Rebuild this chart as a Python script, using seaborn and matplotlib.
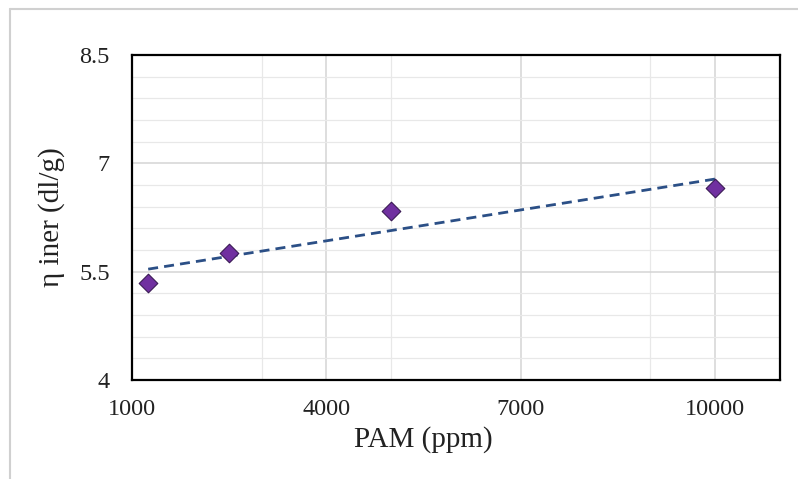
# Libraries
import pandas as pd
import seaborn as sns
import matplotlib.pyplot as plt
from matplotlib.ticker import FixedLocator
from matplotlib.lines import Line2D

# Data
pam_ppm = [1250, 2500, 5000, 10000]
eta_iner = [5.34, 5.76, 6.34, 6.66]
x_ticks = [1000, 4000, 7000, 10000]
y_ticks = [4, 5.5, 7, 8.5]
y_tick_labels = ['4', '5.5', '7', '8.5']

df = pd.DataFrame({'pam': pam_ppm, 'eta': eta_iner})

# Theme
sns.set_theme(style='white')
plt.rcParams['font.family'] = ['Liberation Serif', 'DejaVu Serif']

fig = plt.figure(figsize=(7.98, 4.79), dpi=100)
ax = fig.add_axes([0.1654, 0.2067, 0.8120, 0.6785])

# Linear trend line + points
sns.regplot(data=df, x='pam', y='eta', ax=ax, scatter=False, ci=None, truncate=True,
            line_kws=dict(color='#2b4f86', lw=2.0, ls=(0, (3.6, 2.2)), zorder=3))
sns.scatterplot(data=df, x='pam', y='eta', ax=ax, marker='D', s=90,
                color='#7030a0', edgecolor='#3a1a55', linewidth=0.8, zorder=4)

# Axes limits and ticks (major every 3000 / 1.5, minor every 2000 / 0.3)
ax.set_xlim(1000, 11000)
ax.set_ylim(4, 8.5)
ax.set_xticks(x_ticks)
ax.set_yticks(y_ticks)
ax.set_yticklabels(y_tick_labels)
ax.xaxis.set_minor_locator(FixedLocator([3000, 5000, 9000]))
ax.yaxis.set_minor_locator(FixedLocator([4.3, 4.6, 4.9, 5.2, 5.8, 6.1, 6.4, 6.7,
                                         7.3, 7.6, 7.9, 8.2]))

ax.grid(which='major', color='#d4d4d4', lw=1.1)
ax.grid(which='minor', color='#e8e8e8', lw=0.9)
ax.set_axisbelow(True)
ax.tick_params(which='both', length=0, labelsize=17.5, colors='#222222')
ax.tick_params(axis='y', pad=16)
ax.tick_params(axis='x', pad=14)

for sp in ax.spines.values():
    sp.set_color('black')
    sp.set_linewidth(1.6)

ax.set_xlabel('PAM (ppm)', fontsize=21, color='#222222')
ax.set_ylabel('η iner (dl/g)', fontsize=21, color='#222222')
ax.xaxis.set_label_coords(0.45, -0.142)
ax.yaxis.set_label_coords(-0.103, 0.5)

# Outer chart-area border (top and left only)
fig.add_artist(Line2D([0.012, 1.0], [0.981, 0.981], color='#d0d0d0', lw=1.5))
fig.add_artist(Line2D([0.012, 0.012], [0.0, 0.981], color='#d0d0d0', lw=1.5))

fig.savefig('out.png', dpi=100)
